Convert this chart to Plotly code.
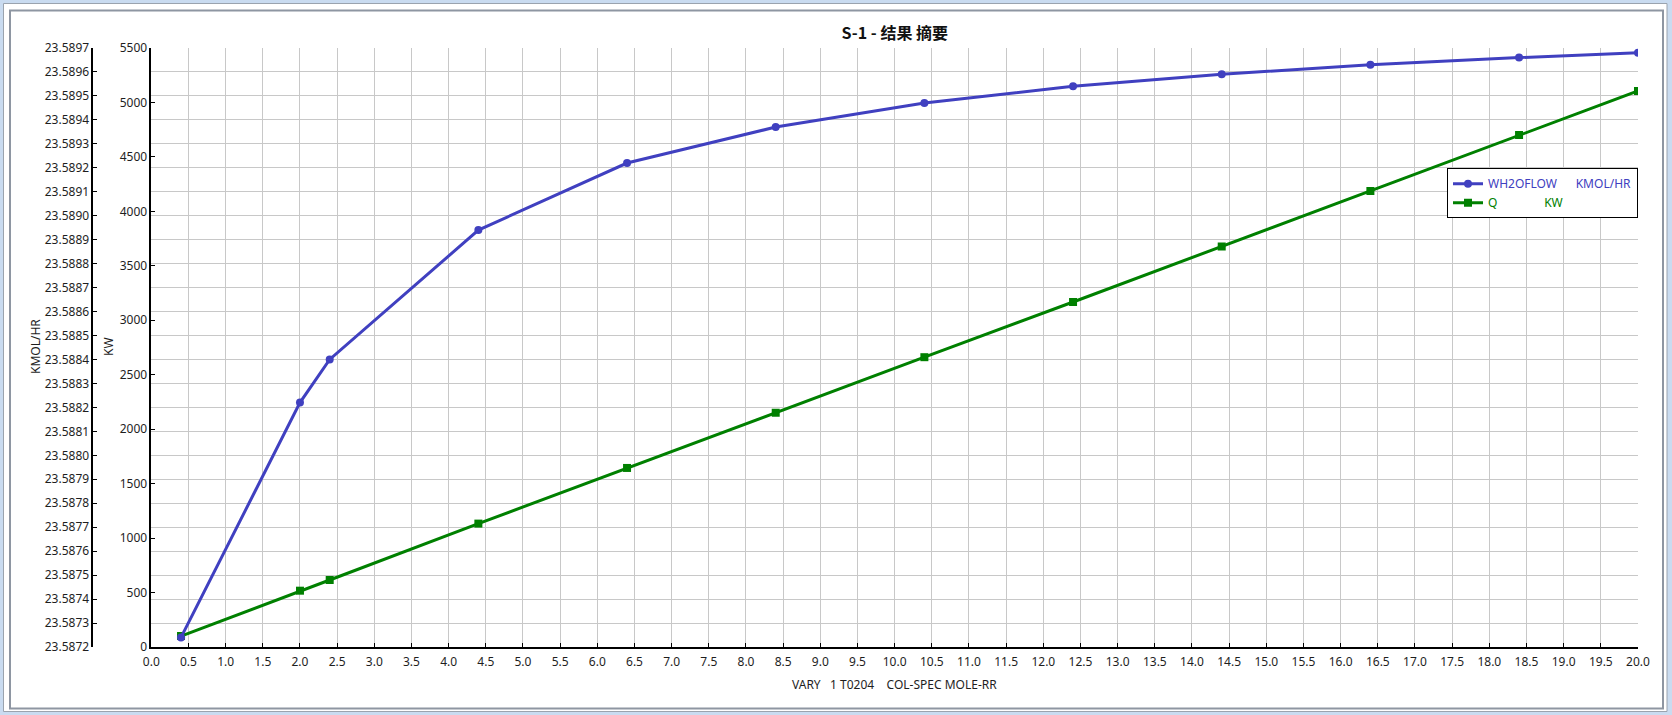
import plotly.graph_objects as go

# sensitivity results: reflux ratio vs. water flow and duty
rr = [0.4, 2.0, 2.4, 4.4, 6.4, 8.4, 10.4, 12.4, 14.4, 16.4, 18.4, 20.0]
wh2oflow = [23.58724, 23.58822, 23.58840, 23.58894, 23.58922, 23.58937,
            23.58947, 23.58954, 23.58959, 23.58963, 23.58966, 23.58968]
q_kw = [100, 517, 615, 1133, 1644, 2151, 2661, 3168, 3678, 4186, 4702, 5106]

title_text = "S-1 - 结果 摘要"
x_title = "VARY\u00a0\u00a0\u00a01 T0204\u00a0\u00a0\u00a0\u00a0COL-SPEC MOLE-RR"

blue = "#4040C0"
green = "#008000"
font = "Noto Sans"

# page geometry (pixels)
W, Hpx = 1672, 715
M_L, M_R, M_T, M_B = 0, 34, 48, 68
PW = W - M_L - M_R
PH = Hpx - M_T - M_B
plot_left = 151.3


def px_x(p):
    return (p - M_L) / PW


def px_y(p):
    return (Hpx - M_B - p) / PH


fig = go.Figure()

fig.add_trace(go.Scatter(
    x=rr, y=wh2oflow, yaxis="y2", mode="lines+markers",
    name="<span style='color:%s'>WH2OFLOW\u00a0\u00a0\u00a0\u00a0\u00a0\u00a0KMOL/HR</span>" % blue,
    line=dict(color=blue, width=3),
    marker=dict(symbol="circle", size=8, color=blue),
))
fig.add_trace(go.Scatter(
    x=rr, y=q_kw, yaxis="y", mode="lines+markers",
    name="<span style='color:%s'>Q" % green + "\u00a0" * 15 + "KW</span>",
    line=dict(color=green, width=3),
    marker=dict(symbol="square", size=8, color=green),
))

axis_common = dict(
    showline=True, linecolor="black", linewidth=1.5,
    ticks="inside", ticklen=4, tickcolor="black", tickwidth=1,
    zeroline=False, tickfont=dict(family=font, size=12, color="#1e1e1e"),
)

fig.update_layout(
    width=W, height=Hpx,
    margin=dict(l=M_L, r=M_R, t=M_T, b=M_B, autoexpand=False),
    paper_bgcolor="#c9dbf0",
    plot_bgcolor="white",
    font=dict(family=font, size=12, color="#1e1e1e"),
    title=dict(text="<b>" + title_text + "</b>", xref="container", yref="container",
               x=894.8 / W, y=1 - 33 / Hpx, xanchor="center", yanchor="middle",
               font=dict(family="Noto Sans CJK SC", size=16, color="#111111")),
    xaxis=dict(axis_common, domain=[px_x(plot_left), 1], range=[0, 20.0001],
               tick0=0, dtick=0.5, tickformat=".1f",
               showgrid=True, gridcolor="#c8c8c8", gridwidth=1,
               ticklabelstandoff=3),
    yaxis=dict(axis_common, range=[0, 5500.01], tick0=0, dtick=500,
               showgrid=False, anchor="x"),
    yaxis2=dict(axis_common, range=[23.58719999, 23.58970001], tick0=23.5872,
                dtick=0.0001, tickformat=".4f", overlaying="y", side="left",
                anchor="free", position=px_x(92.3),
                showgrid=True, gridcolor="#c8c8c8", gridwidth=1),
    legend=dict(x=1, xanchor="right", y=px_y(168.3), yanchor="top",
                bgcolor="white", bordercolor="black", borderwidth=1,
                font=dict(family=font, size=12), itemwidth=30,
                tracegroupgap=0),
    showlegend=True,
)

# axis titles
fig.add_annotation(text="KMOL/HR", x=px_x(35), y=px_y(347), xref="paper", yref="paper",
                   xanchor="center", yanchor="middle",
                   textangle=-90, showarrow=False, font=dict(family=font, size=12))
fig.add_annotation(text="KW", x=px_x(108), y=px_y(347), xref="paper", yref="paper",
                   xanchor="center", yanchor="middle",
                   textangle=-90, showarrow=False, font=dict(family=font, size=12))
fig.add_annotation(text=x_title, x=px_x(895), y=px_y(684), xref="paper", yref="paper",
                   xanchor="center", yanchor="middle",
                   showarrow=False, font=dict(family=font, size=12))

# window frame
fig.add_shape(type="rect", xref="paper", yref="paper", layer="below",
              x0=px_x(3.5), x1=px_x(1667), y0=px_y(711.5), y1=px_y(3.5),
              fillcolor="white", line=dict(color="#9aa3ae", width=1))
fig.add_shape(type="rect", xref="paper", yref="paper", layer="below",
              x0=px_x(10), x1=px_x(1663), y0=px_y(708.5), y1=px_y(10.5),
              fillcolor="white", line=dict(color="#8e96a2", width=2))

fig.write_html("out.html",
               config={"displayModeBar": False},
               post_script="document.body.style.margin='0';"
                           "document.body.style.overflow='hidden';")
